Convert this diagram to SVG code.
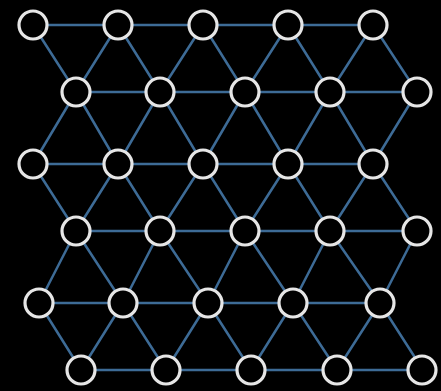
<svg xmlns="http://www.w3.org/2000/svg" width="441" height="391" viewBox="0 0 441 391">
<style>
.e{stroke:#3d6b96;stroke-width:2.5;fill:none}
.n{fill:#000;stroke:#e6e6e6;stroke-width:3.2}
</style>
<rect width="441" height="391" fill="#000"/>
<g id="connectors">
<path class="e" d="M33,25H373M76,92H417M33,164H373M76,231H417M39,303H380M81,370H423"/>
<path class="e" d="M33,25L76,92M118,25L76,92M118,25L160,92M203,25L160,92M203,25L245,92M288,25L245,92M288,25L330,92M373,25L330,92M373,25L417,92"/>
<path class="e" d="M76,92L33,164M76,92L118,164M160,92L118,164M160,92L203,164M245,92L203,164M245,92L288,164M330,92L288,164M330,92L373,164M417,92L373,164"/>
<path class="e" d="M33,164L76,231M118,164L76,231M118,164L160,231M203,164L160,231M203,164L245,231M288,164L245,231M288,164L330,231M373,164L330,231M373,164L417,231"/>
<path class="e" d="M76,231L39,303M76,231L123,303M160,231L123,303M160,231L208,303M245,231L208,303M245,231L293,303M330,231L293,303M330,231L380,303M417,231L380,303"/>
<path class="e" d="M39,303L81,370M123,303L81,370M123,303L166,370M208,303L166,370M208,303L251,370M293,303L251,370M293,303L337,370M380,303L337,370M380,303L423,370"/>
</g>
<g id="r0n0"><circle class="n" cx="33" cy="25" r="14"/></g>
<g id="r0n1"><circle class="n" cx="118" cy="25" r="14"/></g>
<g id="r0n2"><circle class="n" cx="203" cy="25" r="14"/></g>
<g id="r0n3"><circle class="n" cx="288" cy="25" r="14"/></g>
<g id="r0n4"><circle class="n" cx="373" cy="25" r="14"/></g>
<g id="r1n0"><circle class="n" cx="76" cy="92" r="14"/></g>
<g id="r1n1"><circle class="n" cx="160" cy="92" r="14"/></g>
<g id="r1n2"><circle class="n" cx="245" cy="92" r="14"/></g>
<g id="r1n3"><circle class="n" cx="330" cy="92" r="14"/></g>
<g id="r1n4"><circle class="n" cx="417" cy="92" r="14"/></g>
<g id="r2n0"><circle class="n" cx="33" cy="164" r="14"/></g>
<g id="r2n1"><circle class="n" cx="118" cy="164" r="14"/></g>
<g id="r2n2"><circle class="n" cx="203" cy="164" r="14"/></g>
<g id="r2n3"><circle class="n" cx="288" cy="164" r="14"/></g>
<g id="r2n4"><circle class="n" cx="373" cy="164" r="14"/></g>
<g id="r3n0"><circle class="n" cx="76" cy="231" r="14"/></g>
<g id="r3n1"><circle class="n" cx="160" cy="231" r="14"/></g>
<g id="r3n2"><circle class="n" cx="245" cy="231" r="14"/></g>
<g id="r3n3"><circle class="n" cx="330" cy="231" r="14"/></g>
<g id="r3n4"><circle class="n" cx="417" cy="231" r="14"/></g>
<g id="r4n0"><circle class="n" cx="39" cy="303" r="14"/></g>
<g id="r4n1"><circle class="n" cx="123" cy="303" r="14"/></g>
<g id="r4n2"><circle class="n" cx="208" cy="303" r="14"/></g>
<g id="r4n3"><circle class="n" cx="293" cy="303" r="14"/></g>
<g id="r4n4"><circle class="n" cx="380" cy="303" r="14"/></g>
<g id="r5n0"><circle class="n" cx="81" cy="370" r="14"/></g>
<g id="r5n1"><circle class="n" cx="166" cy="370" r="14"/></g>
<g id="r5n2"><circle class="n" cx="251" cy="370" r="14"/></g>
<g id="r5n3"><circle class="n" cx="337" cy="370" r="14"/></g>
<g id="r5n4"><circle class="n" cx="422" cy="370" r="14"/></g>
</svg>
